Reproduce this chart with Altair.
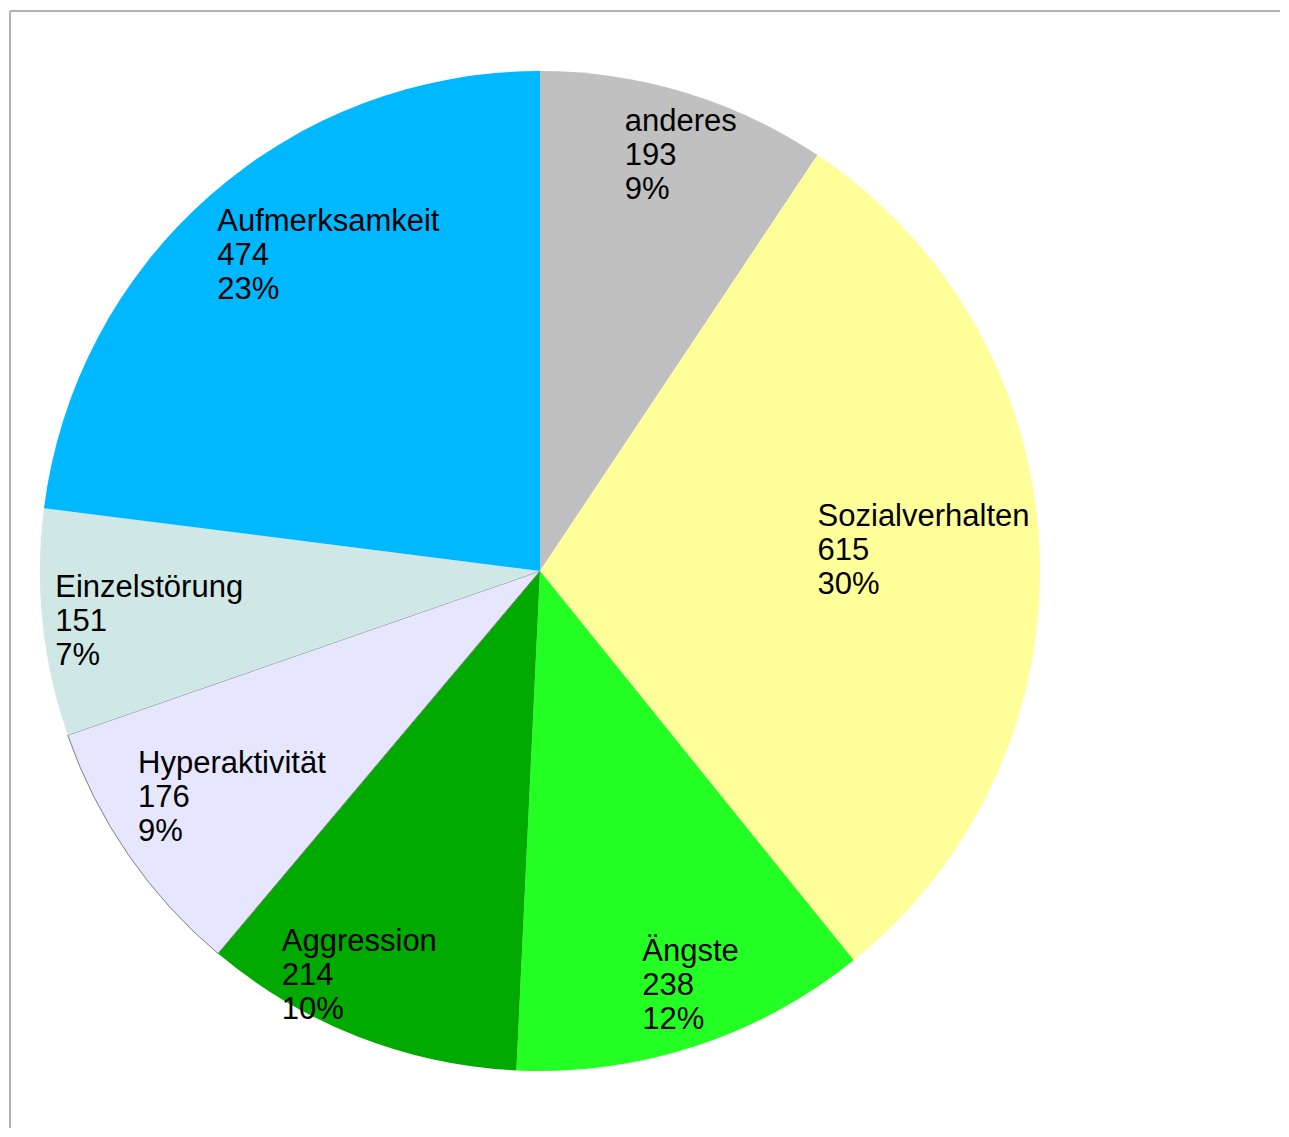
import altair as alt
import pandas as pd

categories = ["anderes", "Sozialverhalten", "Ängste", "Aggression",
              "Hyperaktivität", "Einzelstörung", "Aufmerksamkeit"]
counts = [193, 615, 238, 214, 176, 151, 474]
colors = ["#C0C0C0", "#FFFF99", "#23FF23", "#00AA00",
          "#E6E6FF", "#CFE7E5", "#00B8FF"]
strokes = ["rgba(0,0,0,0)"] * 4 + ["#7F7F7F"] + ["rgba(0,0,0,0)"] * 2

total = sum(counts)
pcts = [round(c / total * 100) for c in counts]
labels = [f"{c}\n{v}\n{p}%" for c, v, p in zip(categories, counts, pcts)]

df = pd.DataFrame({"cat": categories, "value": counts,
                   "idx": list(range(len(categories))), "label": labels})

# label nudges (style): offset from radial anchor to text block's left edge / first line
nudge = {
    "anderes": (-37, -13),
    "Sozialverhalten": (-142, -1),
    "Ängste": (-28, 16),
    "Aggression": (-105, 14),
    "Hyperaktivität": (-56, -11),
    "Einzelstörung": (-67, 7),
    "Aufmerksamkeit": (-45, 0),
}
LINE_SHIFT = -34

theta_scale = alt.Scale(domain=[0, total])

pie = alt.Chart(df).mark_arc(strokeWidth=1).encode(
    theta=alt.Theta("value:Q", stack=True, scale=theta_scale),
    order=alt.Order("idx:Q"),
    color=alt.Color("cat:N", scale=alt.Scale(domain=categories, range=colors), legend=None),
    stroke=alt.Stroke("cat:N", scale=alt.Scale(domain=categories, range=strokes), legend=None),
)

base = alt.Chart(df).transform_window(
    cum="sum(value)", sort=[alt.SortField("idx")], frame=[None, 0]
).transform_calculate(mid="datum.cum - datum.value / 2")

text_layers = []
for cat in categories:
    dx, dy = nudge[cat]
    t = base.transform_filter(alt.datum.cat == cat).mark_text(
        align="left", baseline="middle", dx=dx, dy=dy + LINE_SHIFT, lineBreak="\n",
        fontSize=31, font="Liberation Sans", lineHeight=34, color="black",
    ).encode(
        theta=alt.Theta("mid:Q", scale=theta_scale),
        radius=alt.value(420),
        text="label:N",
    )
    text_layers.append(t)

frame_df = pd.DataFrame({"a": [0]})
top_line = alt.Chart(frame_df).mark_rule(color="#B3B3B3", strokeWidth=2).encode(
    x=alt.value(-30), x2=alt.value(1240), y=alt.value(-60))
left_line = alt.Chart(frame_df).mark_rule(color="#B3B3B3", strokeWidth=2).encode(
    x=alt.value(-30), y=alt.value(-60), y2=alt.value(1057))

chart = alt.layer(pie, *text_layers, top_line, left_line).properties(
    width=1000, height=1000,
    padding={"left": 32, "top": 63, "right": 240, "bottom": 57},
    autosize=alt.AutoSizeParams(type="none"),
).configure_view(stroke=None)

chart.save("out.html", embed_options={"renderer": "svg", "actions": False})
